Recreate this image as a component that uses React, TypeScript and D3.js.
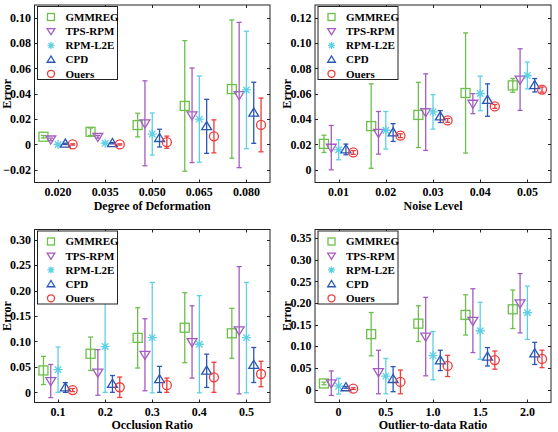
import React, { useEffect, useRef } from 'react';
import * as d3 from 'd3';

const seriesNames = ['GMMREG', 'TPS-RPM', 'RPM-L2E', 'CPD', 'Ouers'];
const seriesColors = ['#6cc04a', '#a45cc0', '#5fd0e4', '#2a57b5', '#ee3b3b'];
const seriesMarkers = ['square', 'triangleDown', 'asterisk', 'triangleUp', 'circle'];

// Degree of Deformation
const deformLevels = ['0.020', '0.035', '0.050', '0.065', '0.080'];
const deformMeans = [
  [0.0061, 0.0100, 0.0153, 0.0304, 0.0437],
  [0.0040, 0.0060, 0.0167, 0.0230, 0.0390],
  [0.0000, 0.0010, 0.0082, 0.0200, 0.0430],
  [0.0005, 0.0010, 0.0050, 0.0143, 0.0250],
  [0.0000, 0.0000, 0.0018, 0.0064, 0.0154],
];
const deformErrors = [
  [0.0010, 0.0030, 0.0093, 0.0515, 0.0545],
  [0.0010, 0.0010, 0.0335, 0.0373, 0.0573],
  [0.0005, 0.0005, 0.0166, 0.0340, 0.0463],
  [0.0005, 0.0005, 0.0070, 0.0213, 0.0241],
  [0.0005, 0.0005, 0.0048, 0.0130, 0.0212],
];
const deformTicks = [-0.02, 0, 0.02, 0.04, 0.06, 0.08, 0.1];

// Noise Level
const noiseLevels = ['0.01', '0.02', '0.03', '0.04', '0.05'];
const noiseMeans = [
  [0.0205, 0.0345, 0.0433, 0.0606, 0.0666],
  [0.0175, 0.0292, 0.0455, 0.0522, 0.0712],
  [0.0158, 0.0312, 0.0457, 0.0602, 0.0744],
  [0.0161, 0.0294, 0.0420, 0.0550, 0.0667],
  [0.0137, 0.0269, 0.0390, 0.0500, 0.0633],
];
const noiseErrors = [
  [0.0068, 0.0333, 0.0257, 0.0474, 0.0054],
  [0.0175, 0.0168, 0.0302, 0.0079, 0.0243],
  [0.0079, 0.0148, 0.0136, 0.0136, 0.0106],
  [0.0042, 0.0070, 0.0047, 0.0128, 0.0053],
  [0.0015, 0.0015, 0.0015, 0.0015, 0.0020],
];
const noiseTicks = [0, 0.02, 0.04, 0.06, 0.08, 0.1, 0.12];

// Occlusion Ratio
const occlusionLevels = ['0.1', '0.2', '0.3', '0.4', '0.5'];
const occlusionMeans = [
  [0.0430, 0.0758, 0.1070, 0.1270, 0.1160],
  [0.0222, 0.0391, 0.0738, 0.0990, 0.1220],
  [0.0445, 0.0900, 0.1075, 0.0945, 0.1075],
  [0.0095, 0.0165, 0.0255, 0.0423, 0.0537],
  [0.0045, 0.0100, 0.0140, 0.0295, 0.0360],
];
const occlusionErrors = [
  [0.0277, 0.0328, 0.0593, 0.0688, 0.0491],
  [0.0325, 0.0449, 0.0708, 0.0710, 0.1250],
  [0.0445, 0.0900, 0.1085, 0.0955, 0.1085],
  [0.0095, 0.0165, 0.0255, 0.0327, 0.0344],
  [0.0030, 0.0200, 0.0140, 0.0295, 0.0250],
];
const occlusionTicks = [0, 0.05, 0.1, 0.15, 0.2, 0.25, 0.3];

// Outlier-to-data Ratio
const outlierLevels = ['0', '0.5', '1.0', '1.5', '2.0'];
const outlierMeans = [
  [0.0140, 0.1280, 0.1523, 0.1725, 0.1855],
  [0.0147, 0.0405, 0.1224, 0.1592, 0.1995],
  [0.0077, 0.0310, 0.0784, 0.1359, 0.1775],
  [0.0050, 0.0240, 0.0673, 0.0757, 0.0835],
  [0.0020, 0.0176, 0.0545, 0.0680, 0.0708],
];
const outlierErrors = [
  [0.0030, 0.0500, 0.0413, 0.0465, 0.0445],
  [0.0283, 0.0503, 0.0907, 0.0738, 0.0685],
  [0.0183, 0.0408, 0.0557, 0.0659, 0.0615],
  [0.0020, 0.0290, 0.0235, 0.0213, 0.0255],
  [0.0020, 0.0274, 0.0245, 0.0210, 0.0202],
];
const outlierTicks = [0, 0.05, 0.1, 0.15, 0.2, 0.25, 0.3, 0.35];

const FONT = "'Liberation Serif', 'Times New Roman', serif";

const panels = [
  { levels: deformLevels, means: deformMeans, errors: deformErrors, ticks: deformTicks, yDomain: [-0.03, 0.11], xLabel: 'Degree of Deformation', box: [34.5, 270, 5, 182.5] },
  { levels: noiseLevels, means: noiseMeans, errors: noiseErrors, ticks: noiseTicks, yDomain: [-0.01, 0.13], xLabel: 'Noise Level', box: [315, 551, 5, 182.5] },
  { levels: occlusionLevels, means: occlusionMeans, errors: occlusionErrors, ticks: occlusionTicks, yDomain: [-0.02, 0.32], xLabel: 'Occlusion Ratio', box: [34.5, 270, 229.5, 402.5] },
  { levels: outlierLevels, means: outlierMeans, errors: outlierErrors, ticks: outlierTicks, yDomain: [-0.03, 0.37], xLabel: 'Outlier-to-data Ratio', box: [315, 551, 229.5, 402.5] },
];

const drawMarker = (g, type, x, y, s, color) => {
  const h = s / 2;
  const common = (sel) => sel.attr('fill', 'none').attr('stroke', color).attr('stroke-width', 1.3);
  if (type === 'square') {
    g.append('rect').attr('x', x - h).attr('y', y - h).attr('width', s).attr('height', s).call(common);
  } else if (type === 'circle') {
    g.append('circle').attr('cx', x).attr('cy', y).attr('r', h).call(common);
  } else if (type === 'triangleDown') {
    g.append('path').attr('d', `M${x - h * 1.1},${y - h * 0.75}L${x + h * 1.1},${y - h * 0.75}L${x},${y + h * 1.05}Z`).call(common);
  } else if (type === 'triangleUp') {
    g.append('path').attr('d', `M${x - h * 1.1},${y + h * 0.75}L${x + h * 1.1},${y + h * 0.75}L${x},${y - h * 1.05}Z`).call(common);
  } else {
    const d = h * 0.72;
    g.append('path')
      .attr('d', `M${x - h},${y}L${x + h},${y}M${x},${y - h}L${x},${y + h}M${x - d},${y - d}L${x + d},${y + d}M${x - d},${y + d}L${x + d},${y - d}`)
      .call(common);
  }
};

const App = () => {
  const ref = useRef(null);

  useEffect(() => {
    const svg = d3.select(ref.current);
    svg.selectAll('*').remove();

    panels.forEach((p) => {
      const [x0, x1, y0, y1] = p.box;
      const g = svg.append('g');

      const xScale = d3.scalePoint().domain(p.levels).range([x0, x1]).padding(0.5);
      const step = xScale.step();
      const yScale = d3.scaleLinear().domain(p.yDomain).range([y1, y0]);

      // white plotting area with frame
      g.append('rect')
        .attr('x', x0).attr('y', y0)
        .attr('width', x1 - x0).attr('height', y1 - y0)
        .attr('fill', 'white').attr('stroke', '#222').attr('stroke-width', 1);

      // inward ticks on all four sides
      p.levels.forEach((lv) => {
        const x = Math.round(xScale(lv)) + 0.5;
        g.append('line').attr('x1', x).attr('x2', x).attr('y1', y1).attr('y2', y1 - 3).attr('stroke', '#222');
        g.append('line').attr('x1', x).attr('x2', x).attr('y1', y0).attr('y2', y0 + 3).attr('stroke', '#222');
        g.append('text')
          .attr('x', xScale(lv)).attr('y', y1 + 13.5)
          .attr('text-anchor', 'middle')
          .attr('font-family', FONT).attr('font-weight', 'bold').attr('font-size', 12)
          .text(lv);
      });
      p.ticks.forEach((t) => {
        const y = Math.round(yScale(t)) + 0.5;
        g.append('line').attr('x1', x0).attr('x2', x0 + 3).attr('y1', y).attr('y2', y).attr('stroke', '#222');
        g.append('line').attr('x1', x1).attr('x2', x1 - 3).attr('y1', y).attr('y2', y).attr('stroke', '#222');
        g.append('text')
          .attr('x', x0 - 3.5).attr('y', yScale(t)).attr('dy', '0.35em')
          .attr('text-anchor', 'end')
          .attr('font-family', FONT).attr('font-weight', 'bold').attr('font-size', 12)
          .text(t === 0 ? '0' : d3.format('.2f')(t));
      });

      // error bars and markers, one series after another
      const plot = g.append('g');
      seriesNames.forEach((name, si) => {
        const color = seriesColors[si];
        const offset = (si - 2) * 0.155 * step;
        p.levels.forEach((lv, li) => {
          const m = p.means[si][li];
          const e = p.errors[si][li];
          const x = xScale(lv) + offset;
          const top = yScale(m + e);
          const bot = yScale(m - e);
          plot.append('line').attr('x1', x).attr('x2', x).attr('y1', top).attr('y2', bot)
            .attr('stroke', color).attr('stroke-width', 1.3);
          [top, bot].forEach((yy) => {
            plot.append('line').attr('x1', x - 2.5).attr('x2', x + 2.5).attr('y1', yy).attr('y2', yy)
              .attr('stroke', color).attr('stroke-width', 1.3);
          });
          drawMarker(plot, seriesMarkers[si], x, yScale(m), 9, color);
        });
      });

      // legend
      const lg = g.append('g').attr('transform', `translate(${x0 + 3},${y0 + 1.5})`);
      lg.append('rect').attr('width', 80).attr('height', 73)
        .attr('fill', 'white').attr('stroke', '#222').attr('stroke-width', 1);
      seriesNames.forEach((name, si) => {
        const yy = 10.5 + si * 14.2;
        drawMarker(lg, seriesMarkers[si], 13.5, yy, 7, seriesColors[si]);
        lg.append('text')
          .attr('x', 28).attr('y', yy).attr('dy', '0.35em')
          .attr('font-family', FONT).attr('font-weight', 'bold').attr('font-size', 11)
          .text(name);
      });

      // axis titles
      g.append('text')
        .attr('x', (x0 + x1) / 2).attr('y', Math.min(y1 + 27, 429))
        .attr('text-anchor', 'middle')
        .attr('font-family', FONT).attr('font-weight', 'bold').attr('font-size', 12)
        .text(p.xLabel);
      g.append('text')
        .attr('transform', `translate(${x0 - 28},${(y0 + y1) / 2}) rotate(-90)`)
        .attr('dy', '0.35em')
        .attr('text-anchor', 'middle')
        .attr('font-family', FONT).attr('font-weight', 'bold').attr('font-size', 12)
        .text('Error');
    });
  }, []);

  return (
    <svg
      ref={ref}
      width={558}
      height={432}
      style={{ position: 'absolute', left: 0, top: 0, background: 'white' }}
    />
  );
};

export default App;
